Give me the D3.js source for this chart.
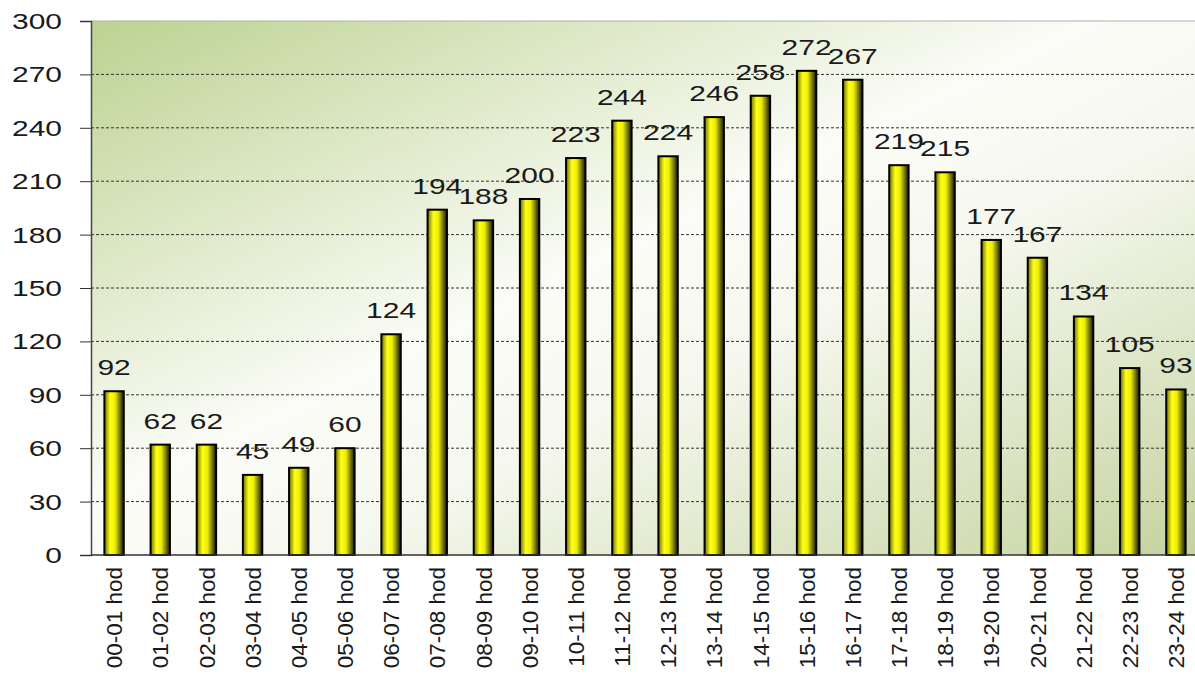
<!DOCTYPE html>
<html>
<head>
<meta charset="UTF-8">
<script src="https://d3js.org/d3.v7.min.js"></script>
<style>
  body { margin: 0; background: #fff; }
  text { font-family: Arial, "Liberation Sans", sans-serif; fill: #1a1a1a; }
</style>
</head>
<body>
<div id="chart"></div>
<script>
var hours = ["00-01 hod", "01-02 hod", "02-03 hod", "03-04 hod", "04-05 hod", "05-06 hod",
  "06-07 hod", "07-08 hod", "08-09 hod", "09-10 hod", "10-11 hod", "11-12 hod",
  "12-13 hod", "13-14 hod", "14-15 hod", "15-16 hod", "16-17 hod", "17-18 hod",
  "18-19 hod", "19-20 hod", "20-21 hod", "21-22 hod", "22-23 hod", "23-24 hod"];
var counts = [92, 62, 62, 45, 49, 60, 124, 194, 188, 200, 223, 244,
  224, 246, 258, 272, 267, 219, 215, 177, 167, 134, 105, 93];
var yTicks = [0, 30, 60, 90, 120, 150, 180, 210, 240, 270, 300];

var W = 1195, H = 676;
var plotLeft = 91, plotRight = 1199, plotTop = 21, plotBottom = 555;
var stretch = 1.36; // horizontal text stretch seen in the picture

var svg = d3.select("#chart").append("svg")
    .attr("width", W)
    .attr("height", H);

var defs = svg.append("defs");

// background gradient: green top-left, white middle, greenish bottom-right
var bg = defs.append("linearGradient").attr("id", "bg")
    .attr("x1", 0).attr("y1", 0).attr("x2", 1).attr("y2", 1);
bg.append("stop").attr("offset", "0").attr("stop-color", "#bcd291");
bg.append("stop").attr("offset", "0.45").attr("stop-color", "#fbfcf7");
bg.append("stop").attr("offset", "0.6").attr("stop-color", "#f6f8ef");
bg.append("stop").attr("offset", "1").attr("stop-color", "#c4d39f");

// bar gradient: cylinder look
var bar = defs.append("linearGradient").attr("id", "bar")
    .attr("x1", 0).attr("y1", 0).attr("x2", 1).attr("y2", 0);
bar.append("stop").attr("offset", "0").attr("stop-color", "#6e6e00");
bar.append("stop").attr("offset", "0.3").attr("stop-color", "#ffff18");
bar.append("stop").attr("offset", "0.55").attr("stop-color", "#eeee00");
bar.append("stop").attr("offset", "1").attr("stop-color", "#141400");

var x = d3.scaleBand()
    .domain(hours)
    .range([plotLeft, plotRight])
    .paddingInner(0.58)
    .paddingOuter(0.29);

var y = d3.scaleLinear()
    .domain([0, 300])
    .range([plotBottom, plotTop]);

svg.append("rect")
    .attr("x", plotLeft).attr("y", plotTop)
    .attr("width", plotRight - plotLeft).attr("height", plotBottom - plotTop)
    .attr("fill", "url(#bg)");

// grid lines
svg.append("g").selectAll("line")
    .data(yTicks.filter(function (d) { return d > 0 && d < 300; }))
    .enter().append("line")
    .attr("x1", plotLeft).attr("x2", plotRight)
    .attr("y1", function (d) { return y(d); })
    .attr("y2", function (d) { return y(d); })
    .attr("stroke", "#333")
    .attr("stroke-width", 1)
    .attr("stroke-dasharray", "3,2");

svg.append("line")
    .attr("x1", plotLeft).attr("x2", plotRight)
    .attr("y1", y(300)).attr("y2", y(300))
    .attr("stroke", "#b0b0b0");

// y axis
var yAxis = svg.append("g")
    .attr("transform", "translate(" + plotLeft + ",0)")
    .call(d3.axisLeft(y).tickValues(yTicks).tickSize(11).tickPadding(0).tickFormat(""));
yAxis.select(".domain").attr("stroke", "#444").attr("stroke-width", 1.5);
yAxis.selectAll(".tick line").attr("stroke", "#333");

svg.append("g").selectAll("text")
    .data(yTicks)
    .enter().append("text")
    .attr("transform", function (d) { return "translate(62," + y(d) + ") scale(" + stretch + ",1)"; })
    .attr("text-anchor", "end")
    .attr("dy", "0.36em")
    .style("font-size", "22px")
    .text(function (d) { return d; });

// bars
svg.append("g").selectAll("rect")
    .data(counts)
    .enter().append("rect")
    .attr("x", function (d, i) { return x(hours[i]); })
    .attr("y", function (d) { return y(d); })
    .attr("width", x.bandwidth())
    .attr("height", function (d) { return plotBottom - y(d); })
    .attr("fill", "url(#bar)")
    .attr("stroke", "#000")
    .attr("stroke-width", 2);

// x axis baseline
svg.append("line")
    .attr("x1", plotLeft).attr("x2", plotRight)
    .attr("y1", plotBottom).attr("y2", plotBottom)
    .attr("stroke", "#333").attr("stroke-width", 1.5);

// value labels
svg.append("g").selectAll("text")
    .data(counts)
    .enter().append("text")
    .attr("transform", function (d, i) {
        return "translate(" + (x(hours[i]) + x.bandwidth() / 2) + "," + (y(d) - 16) + ") scale(" + stretch + ",1)";
    })
    .attr("text-anchor", "middle")
    .style("font-size", "22px")
    .text(function (d) { return d; });

// category labels
svg.append("g").selectAll("text")
    .data(hours)
    .enter().append("text")
    .attr("transform", function (d) {
        return "translate(" + (x(d) + x.bandwidth() / 2) + ",567) rotate(-90)";
    })
    .attr("text-anchor", "end")
    .attr("dy", "0.36em")
    .style("font-size", "22.5px")
    .text(function (d) { return d; });
</script>
</body>
</html>
